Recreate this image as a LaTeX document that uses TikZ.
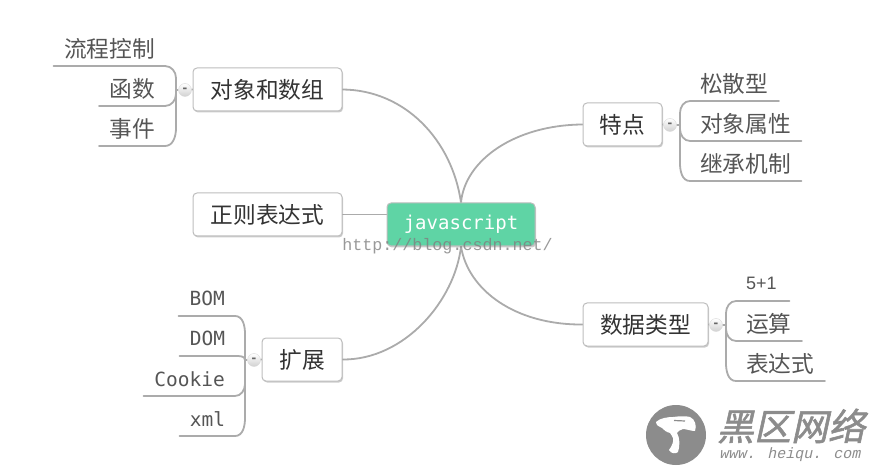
\documentclass[tikz,border=0pt]{standalone}
\usepackage{fontspec}
\usetikzlibrary{shadows,backgrounds}
\setmainfont{Noto Sans CJK SC}
\newfontfamily\latinmono{DejaVu Sans Mono}
\newfontfamily\urlmono{Liberation Mono}
\newfontfamily\latinsans{Liberation Sans}
\newfontfamily\wmark[FakeSlant=0.22,FakeBold=1.5]{Noto Sans CJK SC}
\newfontfamily\wmurl[FakeSlant=0.22]{Liberation Mono}
\definecolor{linegray}{HTML}{ABABAB}
\definecolor{boxgray}{HTML}{BDBDBD}
\definecolor{jsgreen}{HTML}{5FD4A5}
\definecolor{leaftext}{HTML}{555555}
\definecolor{logogray}{HTML}{8C8C8C}
\def\cjksize{\fontsize{22.7}{26}\selectfont}
\def\monosize{\fontsize{19.5}{24}\latinmono}
\tikzset{
  topic/.style={draw=boxgray,fill=white,rounded corners=4pt,line width=1pt,text=black!80,
    minimum height=43pt,inner xsep=0pt,font=\cjksize,
    drop shadow={shadow xshift=1pt,shadow yshift=-1.5pt,fill=black,opacity=.2}},
  leafleft/.style={inner xsep=10pt,inner ysep=0pt,minimum height=34pt,align=right,
    anchor=south east,text=leaftext,font=\cjksize,text width=#1},
  leafright/.style={inner xsep=10pt,inner ysep=0pt,minimum height=34pt,align=left,
    anchor=south west,text=leaftext,font=\cjksize,text width=#1},
  foldbtn/.style={circle,draw=black!15,top color=white,bottom color=black!18,inner sep=0pt,
    minimum size=13pt,text=black!60,font=\fontsize{14}{14}\latinsans\bfseries},
  branch/.style={draw=linegray,line width=1.8pt,line cap=round},
}
\begin{document}
\begin{tikzpicture}[x=1pt,y=-1pt]
    \useasboundingbox (0,0) rectangle (878,470);

    \node[topic,fill=jsgreen,text=white,minimum width=148pt,font=\fontsize{19}{24}\latinmono] (js) at (461,224.5) {javascript};
    \node[topic,minimum width=149pt] (objs) at (267.5,89.5) {对象和数组};
    \node[topic,minimum width=149pt] (regex) at (267.5,214.5) {正则表达式};
    \node[topic,minimum width=80pt] (ext) at (302,359.5) {扩展};
    \node[topic,minimum width=79pt] (feat) at (622.5,124.5) {特点};
    \node[topic,minimum width=125pt] (types) at (645.5,324.5) {数据类型};

    \node[foldbtn] (btnobjs) at (185,90) {-};
    \node[foldbtn] (btnext) at (254,360) {-};
    \node[foldbtn] (btnfeat) at (670,125) {-};
    \node[foldbtn] (btntypes) at (716,325) {-};

    \coordinate (spineobjs) at (176,90);
    \coordinate (spineext) at (245,360);
    \coordinate (spinefeat) at (680,125);
    \coordinate (spinetypes) at (726,325);

    \node[leafleft=91pt] (flow) at (165,66) {流程控制};
    \node[leafleft=45.5pt] (func) at (165,106) {函数};
    \node[leafleft=45.5pt] (event) at (165,146) {事件};

    \node[leafleft=36pt,font=\monosize] (bom) at (235,316) {BOM};
    \node[leafleft=35pt,font=\monosize] (dom) at (235,356) {DOM};
    \node[leafleft=71pt,font=\monosize] (cookie) at (235,396) {Cookie};
    \node[leafleft=35pt,font=\monosize] (xml) at (235,436) {xml};

    \node[leafright=68.5pt] (loose) at (690,101) {松散型};
    \node[leafright=91pt] (attr) at (690,141) {对象属性};
    \node[leafright=91pt] (inherit) at (690,181) {继承机制};

    \node[leafright=33pt,font=\fontsize{18}{24}\latinsans] (num) at (736,301) {5+1};
    \node[leafright=45.5pt] (ops) at (736,341) {运算};
    \node[leafright=68.5pt] (expr) at (736,381) {表达式};

    \begin{scope}[on background layer]
        \draw[branch] (objs.east) .. controls (405,90) and (452,140) .. (js.north);
        \draw[branch] (regex.east) -- (js.west |- regex.east);
        \draw[branch] (ext.east) .. controls (405,360) and (455,300) .. (js.south);
        \draw[branch] (feat.west) .. controls (515,125) and (465,160) .. (js.north);
        \draw[branch] (types.west) .. controls (515,325) and (468,290) .. (js.south);

        \draw[branch] (flow.south west) -- (flow.south east) to[out=0,in=90] ++(11,12) -- (spineobjs);
        \draw[branch] (func.south west) -- (func.south east) to[out=0,in=-90] ++(11,-12) -- (spineobjs);
        \draw[branch] (event.south west) -- (event.south east) to[out=0,in=-90] ++(11,-18) -- (spineobjs);
        \draw[branch] (spineobjs) -- (btnobjs) -- (objs.west);

        \draw[branch] (bom.south west) -- (bom.south east) to[out=0,in=90] ++(10,18) -- (spineext);
        \draw[branch] (dom.south west) -- (dom.south east) to[out=0,in=90] (spineext);
        \draw[branch] (cookie.south west) -- (cookie.south east) to[out=0,in=-90] ++(10,-12) -- (spineext);
        \draw[branch] (xml.south west) -- (xml.south east) to[out=0,in=-90] ++(10,-18) -- (spineext);
        \draw[branch] (spineext) -- (btnext) -- (ext.west);

        \draw[branch] (loose.south east) -- (loose.south west) to[out=180,in=90] ++(-10,12) -- (spinefeat);
        \draw[branch] (attr.south east) -- (attr.south west) to[out=180,in=-90] ++(-10,-12) -- (spinefeat);
        \draw[branch] (inherit.south east) -- (inherit.south west) to[out=180,in=-90] ++(-10,-18) -- (spinefeat);
        \draw[branch] (spinefeat) -- (btnfeat) -- (feat.east);

        \draw[branch] (num.south east) -- (num.south west) to[out=180,in=90] ++(-10,12) -- (spinetypes);
        \draw[branch] (ops.south east) -- (ops.south west) to[out=180,in=-90] ++(-10,-12) -- (spinetypes);
        \draw[branch] (expr.south east) -- (expr.south west) to[out=180,in=-90] ++(-10,-18) -- (spinetypes);
        \draw[branch] (spinetypes) -- (btntypes) -- (types.east);
    \end{scope}

    % watermarks
    \node[text=black!50,opacity=.8,inner sep=0pt,font=\fontsize{16.7}{18}\urlmono] (url) at (447.5,246) {http://blog.csdn.net/};

    \fill[logogray] (676,435) circle (30);
    \fill[white] (656,422) .. controls (660,418) and (668,417) .. (673,417)
        .. controls (680,416) and (686,416) .. (690,417)
        .. controls (695,419) and (697,426) .. (695,431)
        .. controls (691,431) and (686,429) .. (683,429)
        .. controls (680,430) and (678,431) .. (677,433)
        .. controls (680,438) and (680,446) .. (678,452)
        .. controls (676,454) and (671,454) .. (669,450)
        .. controls (672,446) and (674,441) .. (673,438)
        .. controls (672,436) and (671,434) .. (670,433)
        .. controls (666,432) and (664,430) .. (662,428)
        .. controls (659,427) and (656,425) .. (656,422) -- cycle;
    \draw[logogray,line width=1.2pt] (674,420.5) -- (685,421);
    \node[text=logogray,inner sep=0pt,font=\fontsize{37}{40}\wmark] (brand) at (791,426) {黑区网络};
    \node[text=logogray,inner sep=0pt,font=\fontsize{15}{15}\wmurl] (site) at (790,455) {www. heiqu. com};
\end{tikzpicture}
\end{document}
